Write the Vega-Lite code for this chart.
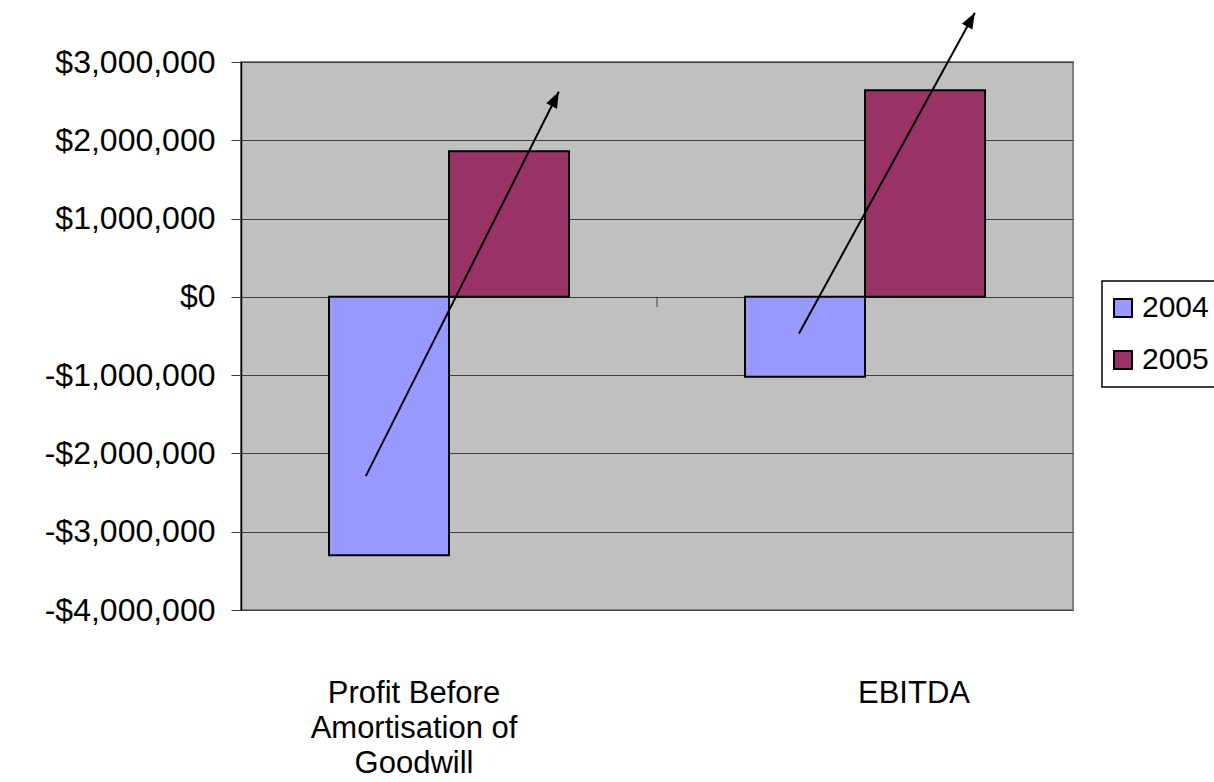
{
  "$schema": "https://vega.github.io/schema/vega-lite/v6.json",
  "width": 832,
  "height": 548,
  "autosize": {"type": "none"},
  "padding": {"left": 241, "top": 62, "right": 141, "bottom": 172},
  "background": "white",
  "config": {
    "font": "Liberation Sans",
    "view": {"fill": "#c0c0c0", "stroke": "#808080", "strokeWidth": 2},
    "legend": {"strokeWidth": 1.5}
  },
  "datasets": {
    "bars": [
      {"measure": "Profit Before Amortisation of Goodwill", "year": "2004", "value": -3300000},
      {"measure": "Profit Before Amortisation of Goodwill", "year": "2005", "value": 1860000},
      {"measure": "EBITDA", "year": "2004", "value": -1020000},
      {"measure": "EBITDA", "year": "2005", "value": 2640000}
    ],
    "arrows": [
      {"arrow": "Profit", "x_start": 0.300, "y_start": -2290000, "x_end": 0.764, "y_end": 2620000},
      {"arrow": "EBITDA", "x_start": 1.341, "y_start": -470000, "x_end": 1.764, "y_end": 3630000}
    ]
  },
  "layer": [
    {
      "data": {"name": "bars"},
      "mark": {"type": "bar", "stroke": "black", "strokeWidth": 2},
      "encoding": {
        "x": {
          "field": "measure",
          "type": "nominal",
          "sort": ["Profit Before Amortisation of Goodwill", "EBITDA"],
          "scale": {"paddingInner": 0.423, "paddingOuter": 0.2115},
          "title": null,
          "axis": {
            "orient": "bottom",
            "domain": false,
            "ticks": false,
            "grid": false,
            "labelPadding": 68,
            "labelFontSize": 31,
            "labelColor": "black",
            "labelAngle": 0,
            "labelLimit": 0,
            "labelLineHeight": 35,
            "labelBaseline": "top",
            "labelOverlap": false,
            "labelOffset": {"condition": {"test": "datum.value === 'EBITDA'", "value": 49}, "value": -35},
            "labelExpr": "datum.value === 'EBITDA' ? 'EBITDA' : ['Profit Before', 'Amortisation of', 'Goodwill']"
          }
        },
        "xOffset": {"field": "year", "type": "nominal", "scale": {"paddingInner": 0, "paddingOuter": 0}},
        "y": {
          "field": "value",
          "type": "quantitative",
          "title": null,
          "scale": {"domain": [-4000000, 3000000], "nice": false, "zero": false},
          "axis": {
            "values": [-4000000, -3000000, -2000000, -1000000, 0, 1000000, 2000000, 3000000],
            "labelExpr": "(datum.value < 0 ? '-' : '') + format(abs(datum.value), '$,.0f')",
            "labelFontSize": 32,
            "labelColor": "black",
            "labelPadding": 16,
            "tickSize": 10,
            "tickColor": "#404040",
            "tickWidth": 1,
            "domainColor": "black",
            "domainWidth": 1.5,
            "gridColor": "#404040",
            "gridWidth": 1
          }
        },
        "color": {
          "field": "year",
          "type": "nominal",
          "scale": {"domain": ["2004", "2005"], "range": ["#9999ff", "#993366"]},
          "legend": {
            "orient": "none",
            "legendX": 861,
            "legendY": 219,
            "title": null,
            "direction": "vertical",
            "symbolType": "square",
            "symbolSize": 324,
            "symbolStrokeColor": "black",
            "symbolStrokeWidth": 2,
            "symbolOpacity": 1,
            "symbolOffset": -6,
            "labelFontSize": 30,
            "labelColor": "black",
            "labelOffset": 4,
            "labelLimit": 0,
            "rowPadding": 22,
            "padding": 12,
            "strokeColor": "black",
            "fillColor": "white"
          }
        }
      }
    },
    {
      "layer": [
        {
          "data": {"name": "arrows"},
          "mark": {"type": "rule", "color": "black", "strokeWidth": 2},
          "encoding": {
            "x": {"field": "x_start", "type": "quantitative", "scale": {"domain": [0, 2], "nice": false, "zero": false}, "axis": null},
            "x2": {"field": "x_end"},
            "y": {"field": "y_start", "type": "quantitative", "title": null},
            "y2": {"field": "y_end"}
          }
        },
        {
          "data": {"name": "arrows"},
          "transform": [{"filter": "datum.arrow === 'Profit'"}],
          "mark": {"type": "point", "shape": "M0,0L-0.6,1.6L0.6,1.6Z", "filled": true, "color": "black", "size": 400, "angle": 26.7, "opacity": 1},
          "encoding": {
            "x": {"field": "x_end", "type": "quantitative", "scale": {"domain": [0, 2], "nice": false, "zero": false}, "axis": null},
            "y": {"field": "y_end", "type": "quantitative", "title": null}
          }
        },
        {
          "data": {"name": "arrows"},
          "transform": [{"filter": "datum.arrow === 'EBITDA'"}],
          "mark": {"type": "point", "shape": "M0,0L-0.6,1.6L0.6,1.6Z", "filled": true, "color": "black", "size": 400, "angle": 28.7, "opacity": 1},
          "encoding": {
            "x": {"field": "x_end", "type": "quantitative", "scale": {"domain": [0, 2], "nice": false, "zero": false}, "axis": null},
            "y": {"field": "y_end", "type": "quantitative", "title": null}
          }
        },
        {
          "data": {"values": [{}]},
          "mark": {"type": "rule", "color": "#404040", "strokeWidth": 1},
          "encoding": {
            "x": {"datum": 1, "type": "quantitative", "scale": {"domain": [0, 2], "nice": false, "zero": false}, "axis": null},
            "y": {"datum": 0, "type": "quantitative", "title": null},
            "y2": {"datum": -130000}
          }
        }
      ]
    }
  ],
  "resolve": {"scale": {"x": "independent"}}
}
